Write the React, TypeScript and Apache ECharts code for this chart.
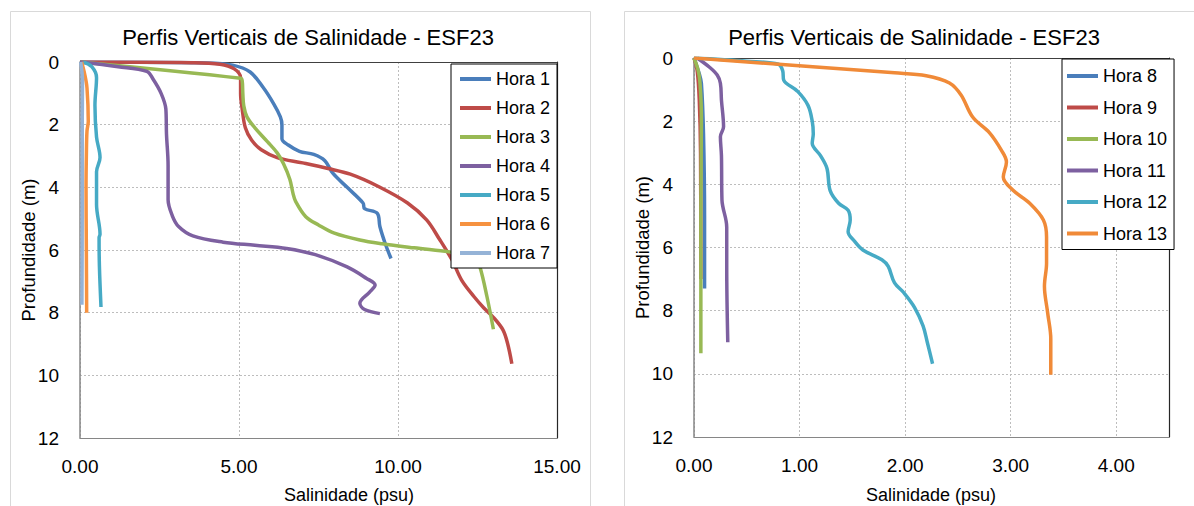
import React, { useEffect, useRef } from "react";
import * as echarts from "echarts";

// ---------- data: [salinity (psu), depth (m)] ----------
const leftNames = ["Hora 1", "Hora 2", "Hora 3", "Hora 4", "Hora 5", "Hora 6", "Hora 7"];
const rightNames = ["Hora 8", "Hora 9", "Hora 10", "Hora 11", "Hora 12", "Hora 13"];

const hora1 = [[0, 0], [4.0, 0.03], [4.8, 0.1], [5.35, 0.32], [5.75, 0.8], [6.1, 1.35], [6.3, 1.75], [6.35, 2.0], [6.35, 2.45], [6.55, 2.65], [6.9, 2.85], [7.35, 2.95], [7.7, 3.15], [7.95, 3.55], [8.4, 4.0], [8.9, 4.5], [8.95, 4.68], [9.35, 4.83], [9.43, 5.25], [9.6, 5.8], [9.78, 6.27]];
const hora2 = [[0, 0], [3.5, 0.02], [4.4, 0.07], [4.85, 0.22], [5.05, 0.5], [5.05, 1.0], [5.1, 1.5], [5.2, 2.1], [5.4, 2.5], [5.7, 2.8], [6.2, 3.05], [7.0, 3.22], [7.8, 3.4], [8.5, 3.58], [9.4, 3.98], [10.3, 4.5], [10.9, 5.04], [11.3, 5.65], [11.7, 6.32], [12.0, 6.96], [12.4, 7.5], [12.7, 7.85], [13.0, 8.15], [13.3, 8.55], [13.45, 9.0], [13.58, 9.63]];
const hora3 = [[0, 0], [5.05, 0.52], [5.1, 0.6], [5.12, 1.0], [5.15, 1.4], [5.25, 1.75], [5.5, 2.1], [5.9, 2.55], [6.2, 2.9], [6.4, 3.25], [6.6, 3.75], [6.7, 4.2], [6.78, 4.45], [7.1, 4.94], [7.5, 5.2], [8.0, 5.46], [8.8, 5.68], [9.5, 5.8], [10.5, 5.93], [11.6, 6.06], [12.2, 6.15], [12.45, 6.3], [12.58, 6.55], [12.8, 7.5], [13.0, 8.53]];
const hora4 = [[0, 0], [1.2, 0.15], [2.1, 0.3], [2.3, 0.55], [2.55, 1.0], [2.7, 1.5], [2.72, 2.3], [2.77, 3.3], [2.77, 4.4], [2.9, 4.9], [3.1, 5.25], [3.55, 5.55], [4.5, 5.75], [5.5, 5.85], [6.5, 5.95], [7.4, 6.15], [8.4, 6.54], [9.0, 6.9], [9.28, 7.12], [9.1, 7.35], [8.8, 7.7], [8.95, 7.9], [9.43, 8.03]];
const hora5 = [[0.1, 0], [0.37, 0.15], [0.52, 0.5], [0.47, 1.38], [0.52, 2.4], [0.63, 3.05], [0.52, 3.5], [0.52, 4.55], [0.63, 5.5], [0.6, 5.6], [0.61, 6.5], [0.66, 7.82]];
const hora6 = [[0.05, 0], [0.15, 0.4], [0.22, 0.83], [0.26, 1.9], [0.22, 2.2], [0.2, 3.0], [0.19, 4.0], [0.2, 6.0], [0.21, 8.0]];
const hora7 = [[0.02, 0], [0.08, 0.6], [0.07, 2.0], [0.07, 5.0], [0.06, 7.75]];

const hora8 = [[0, 0], [0.05, 0.5], [0.07, 0.8], [0.09, 2.4], [0.1, 5.0], [0.1, 7.3]];
const hora9 = [[0, 0], [0.03, 0.4], [0.05, 1.33], [0.062, 3.0], [0.065, 7.0]];
const hora10 = [[0, 0], [0.04, 0.4], [0.057, 0.8], [0.07, 1.85], [0.065, 5.0], [0.065, 9.35]];
const hora11 = [[0.03, 0], [0.15, 0.3], [0.22, 0.54], [0.25, 0.8], [0.26, 1.33], [0.28, 2.18], [0.25, 2.49], [0.26, 3.1], [0.265, 4.5], [0.31, 5.35], [0.31, 6.6], [0.32, 9.0]];
const hora12 = [[0, 0], [0.5, 0.1], [0.8, 0.2], [0.84, 0.4], [0.85, 0.7], [0.98, 1.05], [1.08, 1.5], [1.12, 2.0], [1.13, 2.4], [1.12, 2.7], [1.2, 3.1], [1.26, 3.5], [1.29, 4.2], [1.37, 4.6], [1.46, 4.82], [1.48, 5.13], [1.46, 5.5], [1.52, 5.8], [1.6, 6.08], [1.78, 6.39], [1.84, 6.6], [1.9, 7.12], [1.99, 7.44], [2.09, 7.9], [2.17, 8.48], [2.21, 9.0], [2.26, 9.68]];
const hora13 = [[0, 0], [1.9, 0.47], [2.2, 0.56], [2.42, 0.79], [2.53, 1.17], [2.64, 1.87], [2.8, 2.37], [2.91, 2.91], [2.96, 3.29], [2.93, 3.77], [3.02, 4.18], [3.18, 4.6], [3.31, 5.13], [3.34, 5.67], [3.34, 6.5], [3.32, 7.23], [3.35, 8.06], [3.38, 8.9], [3.38, 10.03]];

const leftData = [hora1, hora2, hora3, hora4, hora5, hora6, hora7];
const rightData = [hora8, hora9, hora10, hora11, hora12, hora13];

const leftColors = ["#4A7EBB", "#BE4B48", "#98B954", "#7D60A0", "#46AAC5", "#F69240", "#95B3D7"];
const rightColors = ["#4A7EBB", "#BE4B48", "#98B954", "#7D60A0", "#46AAC5", "#F08A38"];

const titleText = "Perfis Verticais de Salinidade - ESF23";
const xName = "Salinidade (psu)";
const yName = "Profundidade (m)";

const FONT = '"Liberation Sans", Arial, sans-serif';

function xAxes(gridIndex: number, max: number, interval: number, hideMax: boolean) {
  return [
    {
      type: "value",
      gridIndex,
      position: "bottom",
      min: 0,
      max,
      interval,
      axisLine: { show: true, onZero: false, lineStyle: { color: "#868686", width: 1 } },
      axisTick: { show: false },
      axisLabel: {
        show: true,
        margin: 19,
        color: "#000",
        fontSize: 19,
        fontFamily: FONT,
        showMaxLabel: !hideMax,
        formatter: (v: number) => v.toFixed(2),
      },
      splitLine: { show: true, lineStyle: { color: "#bdbdbd", type: [2, 2], width: 1 } },
    },
    {
      type: "value",
      gridIndex,
      position: "top",
      min: 0,
      max,
      interval,
      axisLine: { show: true, onZero: false, lineStyle: { color: "#404040", width: 1.2 } },
      axisTick: { show: false },
      axisLabel: { show: false },
      splitLine: { show: false },
    },
  ];
}

function yAxes(gridIndex: number) {
  return [
    {
      type: "value",
      gridIndex,
      position: "left",
      inverse: true,
      min: 0,
      max: 12,
      interval: 2,
      axisLine: { show: true, onZero: false, lineStyle: { color: "#868686", width: 1.5 } },
      axisTick: { show: false },
      axisLabel: { margin: 21, color: "#000", fontSize: 19, fontFamily: FONT },
      splitLine: { show: true, lineStyle: { color: "#bdbdbd", type: [2, 2], width: 1 } },
    },
    {
      type: "value",
      gridIndex,
      position: "right",
      inverse: true,
      min: 0,
      max: 12,
      interval: 2,
      axisLine: { show: true, onZero: false, lineStyle: { color: "#262626", width: 1.2 } },
      axisTick: { show: false },
      axisLabel: { show: false },
      splitLine: { show: false },
    },
  ];
}

function makeSeries(names: string[], data: number[][][], colors: string[], axisIndex: number) {
  return names.map((name, i) => ({
    name,
    type: "line",
    xAxisIndex: axisIndex,
    yAxisIndex: axisIndex,
    data: data[i],
    smooth: 0.35,
    showSymbol: false,
    symbol: "none",
    color: colors[i],
    lineStyle: { color: colors[i], width: 3.5 },
  }));
}

function legendOpt(names: string[], left: number, top: number, gap: number, padding: number[]) {
  return {
    data: names,
    orient: "vertical",
    left,
    top,
    padding,
    itemGap: gap,
    itemWidth: 31,
    itemHeight: 4,
    itemTextGap: 3,
    icon: "rect",
    backgroundColor: "#fff",
    borderColor: "#000",
    borderWidth: 1,
    borderRadius: 0,
    selectedMode: false,
    textStyle: { fontSize: 18, lineHeight: 18, color: "#000", fontFamily: FONT },
  };
}

export default function App() {
  const ref = useRef<HTMLDivElement>(null);

  useEffect(() => {
    if (!ref.current) return;
    const chart = echarts.init(ref.current, null, { renderer: "svg" });
    const option: any = {
      animation: false,
      backgroundColor: "#fff",
      textStyle: { fontFamily: FONT },
      grid: [
        { left: 80, top: 62, width: 477, height: 376, containLabel: false },
        { left: 694, top: 58, width: 475, height: 379, containLabel: false },
      ],
      xAxis: [...xAxes(0, 15, 5, false), ...xAxes(1, 4.5, 1, true)],
      yAxis: [...yAxes(0), ...yAxes(1)],
      legend: [
        legendOpt(leftNames, 451, 64, 11, [6, 7, 6, 9]),
        legendOpt(rightNames, 1062, 59, 13.5, [8, 7, 7, 5]),
      ],
      series: [
        ...makeSeries(leftNames, leftData, leftColors, 0),
        ...makeSeries(rightNames, rightData, rightColors, 2),
      ],
      graphic: [
        {
          type: "rect",
          silent: true,
          z: -10,
          shape: { x: 10.5, y: 11.5, width: 580, height: 520 },
          style: { fill: "none", stroke: "#d9d9d9", lineWidth: 1 },
        },
        {
          type: "rect",
          silent: true,
          z: -10,
          shape: { x: 624.5, y: 11.5, width: 600, height: 520 },
          style: { fill: "none", stroke: "#d9d9d9", lineWidth: 1 },
        },
        {
          type: "text",
          x: 308,
          y: 37.5,
          style: { text: titleText, fontSize: 22, fontFamily: FONT, fill: "#000", align: "center", verticalAlign: "middle" },
        },
        {
          type: "text",
          x: 914,
          y: 37.5,
          style: { text: titleText, fontSize: 22, fontFamily: FONT, fill: "#000", align: "center", verticalAlign: "middle" },
        },
        {
          type: "text",
          x: 349,
          y: 494.7,
          style: { text: xName, fontSize: 18, fontFamily: FONT, fill: "#000", align: "center", verticalAlign: "middle" },
        },
        {
          type: "text",
          x: 931,
          y: 494.7,
          style: { text: xName, fontSize: 18, fontFamily: FONT, fill: "#000", align: "center", verticalAlign: "middle" },
        },
        {
          type: "text",
          x: 28,
          y: 250,
          rotation: Math.PI / 2,
          style: { text: yName, fontSize: 18.5, fontFamily: FONT, fill: "#000", align: "center", verticalAlign: "middle" },
        },
        {
          type: "text",
          x: 642,
          y: 247.5,
          rotation: Math.PI / 2,
          style: { text: yName, fontSize: 18.5, fontFamily: FONT, fill: "#000", align: "center", verticalAlign: "middle" },
        },
      ],
    };
    chart.setOption(option);
    return () => {
      chart.dispose();
    };
  }, []);

  return (
    <div
      ref={ref}
      style={{ position: "fixed", left: 0, top: 0, width: 1194, height: 506, background: "#fff" }}
    />
  );
}
